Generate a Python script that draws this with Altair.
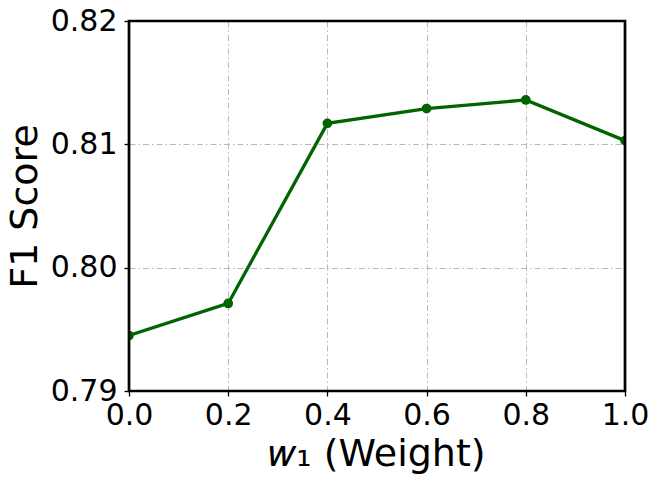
import altair as alt
import pandas as pd

weights = [0.0, 0.2, 0.4, 0.6, 0.8, 1.0]
f1_scores = [0.7945, 0.7971, 0.8117, 0.8129, 0.8136, 0.8103]
x_ticks = [0.0, 0.2, 0.4, 0.6, 0.8, 1.0]
y_ticks = [0.79, 0.80, 0.81, 0.82]

df = pd.DataFrame({"w": weights, "f1": f1_scores})

FONT = "DejaVu Sans"
W, H = 496, 370

x = alt.X("w:Q", scale=alt.Scale(domain=[0, 1], nice=False),
          axis=alt.Axis(values=x_ticks, format=".1f", title="𝑤₁ (Weight)",
                        labelFontSize=30, titleFontSize=38,
                        titleY=74, titleBaseline="alphabetic",
                        labelPadding=4, tickSize=5, tickColor="black", tickWidth=1.3,
                        labelColor="black", titleColor="black", titleFontWeight="normal",
                        labelFont=FONT, titleFont=FONT, domain=False,
                        grid=True, gridColor="#b0b0b0", gridWidth=0.9,
                        gridDash=[6, 3, 1.5, 3], labelFlush=False, labelOverlap=False))
y = alt.Y("f1:Q", scale=alt.Scale(domain=[0.79, 0.82], nice=False, zero=False),
          axis=alt.Axis(values=y_ticks, format=".2f", title="F1 Score",
                        labelFontSize=30, titleFontSize=38,
                        titleX=-104, titleY=H / 2, titleBaseline="middle", titleAlign="center",
                        labelPadding=7, tickSize=5, tickColor="black", tickWidth=1.3,
                        labelColor="black", titleColor="black", titleFontWeight="normal",
                        labelFont=FONT, titleFont=FONT, domain=False,
                        grid=True, gridColor="#b0b0b0", gridWidth=0.9,
                        gridDash=[6, 3, 1.5, 3], labelFlush=False, labelOverlap=False))

line = alt.Chart(df).mark_line(color="#006400", strokeWidth=3.3, clip=True).encode(x=x, y=y)
pts = alt.Chart(df).mark_circle(color="#006400", size=95, opacity=1, clip=True).encode(x=x, y=y)
frame = alt.Chart(pd.DataFrame({"f": [0]})).mark_rect(
    filled=False, stroke="black", strokeWidth=2.7
).encode(x=alt.value(0), x2=alt.value(W), y=alt.value(0), y2=alt.value(H))

chart = (line + pts + frame).properties(
    width=W, height=H,
    autosize=alt.AutoSizeParams(type="none"),
    padding={"left": 121, "top": 13, "right": 26, "bottom": 86},
    background="white",
).configure_view(strokeWidth=0)

chart.save("out.html", embed_options={"renderer": "svg", "actions": False})
